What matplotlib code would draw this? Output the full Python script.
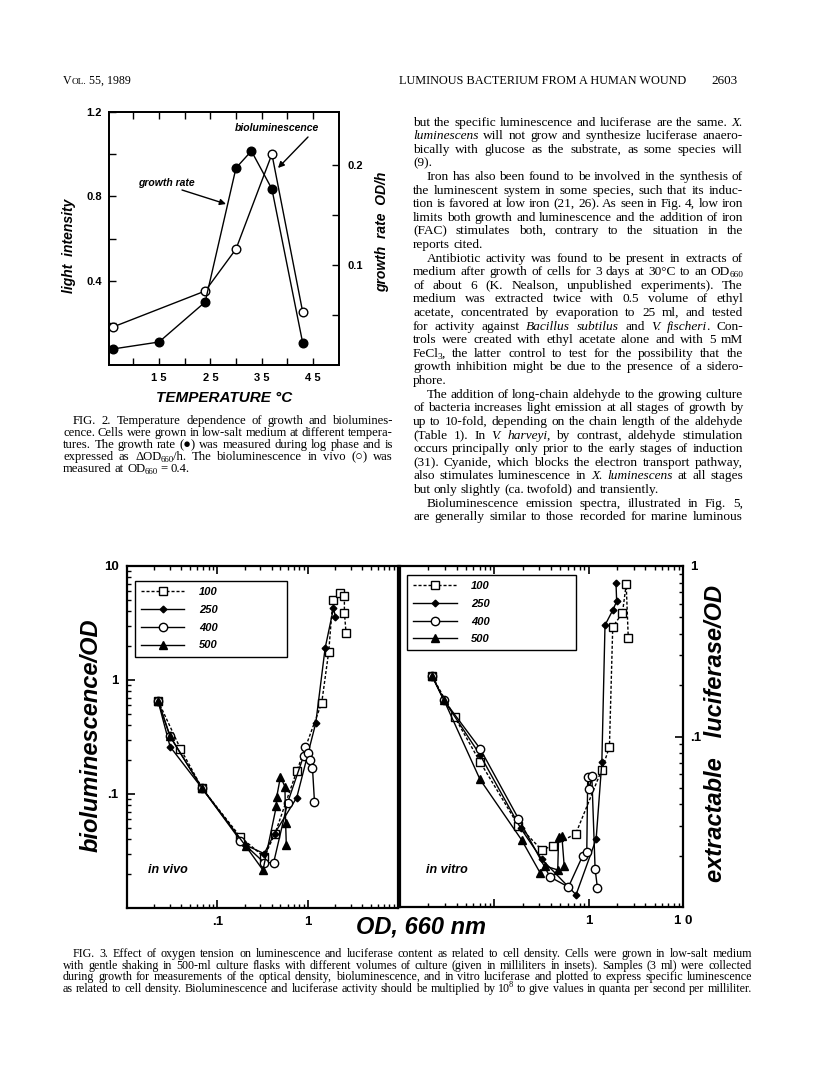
import math
import matplotlib
matplotlib.use("Agg")
import matplotlib.pyplot as plt
from matplotlib.ticker import LogLocator, NullFormatter
import numpy as np

# ---------------- data : FIG. 2 ----------------
TEMP_GROWTH = [6, 15, 24, 30, 33, 37, 43]
GROWTH_RATE = [0.016, 0.023, 0.063, 0.197, 0.214, 0.176, 0.022]
TEMP_LIGHT = [6, 24, 30, 37, 43]
LIGHT_INTENSITY = [0.180, 0.351, 0.550, 1.0, 0.251]
TEMP_TICKS = [15, 25, 35, 45]
TEMP_TICK_LABELS = ['1 5', '2 5', '3 5', '4 5']
TEMP_MINOR = [10, 20, 30, 40]
LIGHT_TICKS = [0.4, 0.8, 1.2]
LIGHT_TICK_LABELS = ['0.4', '0.8', '1.2']
LIGHT_MINOR = [0.2, 0.6, 1.0]
GROWTH_TICKS = [0.1, 0.2]
GROWTH_TICK_LABELS = ['0.1', '0.2']
GROWTH_MINOR = [0.05, 0.15]

# ---------------- data : FIG. 3 ----------------
VOLUMES = ['100', '250', '400', '500']
VIVO_OD = {
    '100': [0.022, 0.039, 0.068, 0.18, 0.33, 0.435, 0.76, 1.43, 1.71, 1.90, 2.29, 2.55, 2.55, 2.66],
    '250': [0.022, 0.030, 0.068, 0.20, 0.33, 0.43, 0.757, 1.23, 1.56, 1.93, 2.03],
    '400': [0.022, 0.030, 0.068, 0.18, 0.33, 0.42, 0.60, 0.90, 0.94, 1.02, 1.06, 1.13, 1.19],
    '500': [0.022, 0.030, 0.068, 0.206, 0.32, 0.45, 0.455, 0.50, 0.56, 0.57, 0.58],
}
VIVO_BL = {
    '100': [0.66, 0.25, 0.112, 0.042, 0.028, 0.045, 0.16, 0.63, 1.77, 5.0, 5.75, 5.5, 3.9, 2.6],
    '250': [0.66, 0.26, 0.112, 0.036, 0.030, 0.045, 0.093, 0.42, 1.9, 4.25, 3.6],
    '400': [0.66, 0.32, 0.112, 0.039, 0.025, 0.025, 0.084, 0.215, 0.26, 0.23, 0.20, 0.17, 0.085],
    '500': [0.66, 0.32, 0.112, 0.035, 0.0215, 0.078, 0.095, 0.142, 0.116, 0.056, 0.036],
}
VITRO_OD = {
    '100': [0.022, 0.038, 0.0705, 0.18, 0.318, 0.42, 0.73, 1.38, 1.66, 1.80, 2.28, 2.50, 2.63],
    '250': [0.022, 0.0293, 0.0705, 0.19, 0.32, 0.735, 1.2, 1.38, 1.49, 1.80, 1.98, 1.95],
    '400': [0.022, 0.0293, 0.0705, 0.18, 0.39, 0.61, 0.865, 0.955, 0.977, 1.016, 1.08, 1.17, 1.24],
    '500': [0.022, 0.0293, 0.0705, 0.195, 0.305, 0.345, 0.47, 0.48, 0.52, 0.55],
}
VITRO_LU = {
    '100': [0.225, 0.13, 0.071, 0.030, 0.0216, 0.0229, 0.0269, 0.064, 0.087, 0.44, 0.53, 0.78, 0.376],
    '250': [0.225, 0.163, 0.078, 0.029, 0.019, 0.0118, 0.025, 0.071, 0.45, 0.55, 0.62, 0.79],
    '400': [0.225, 0.163, 0.085, 0.033, 0.015, 0.0131, 0.020, 0.021, 0.058, 0.049, 0.059, 0.0167, 0.0129],
    '500': [0.225, 0.163, 0.056, 0.0247, 0.0159, 0.0174, 0.0165, 0.0256, 0.026, 0.0175],
}
OD_TICKS = [0.01, 0.1, 1, 10]
VIVO_OD_LABELS = ['', '.1', '1', '']
VITRO_OD_LABELS = ['', '', '1', '1 0']
VIVO_Y_TICKS = [0.01, 0.1, 1, 10]
VIVO_Y_LABELS = ['', '.1', '1', '10']
VITRO_Y_TICKS = [0.01, 0.1, 1]
VITRO_Y_LABELS = ['', '.1', '1']

# ---------------- page text ----------------
HEADER_LEFT = ['V', 'OL.', ' 55, 1989']
HEADER_RIGHT = 'LUMINOUS BACTERIUM FROM A HUMAN WOUND'
PAGE_NO = '2603'
BODY = [
    "but the specific luminescence and luciferase are the same. *X.*",
    "*luminescens* will not grow and synthesize luciferase anaero-",
    "bically with glucose as the substrate, as some species will",
    "(9).",
    "Iron has also been found to be involved in the synthesis of",
    "the luminescent system in some species, such that its induc-",
    "tion is favored at low iron (21, 26). As seen in Fig. 4, low iron",
    "limits both growth and luminescence and the addition of iron",
    "(FAC) stimulates both, contrary to the situation in the",
    "reports cited.",
    "Antibiotic activity was found to be present in extracts of",
    "medium after growth of cells for 3 days at 30°C to an OD_660_",
    "of about 6 (K. Nealson, unpublished experiments). The",
    "medium was extracted twice with 0.5 volume of ethyl",
    "acetate, concentrated by evaporation to 25 ml, and tested",
    "for activity against *Bacillus subtilus* and *V. fischeri*. Con-",
    "trols were created with ethyl acetate alone and with 5 mM",
    "FeCl_3_, the latter control to test for the possibility that the",
    "growth inhibition might be due to the presence of a sidero-",
    "phore.",
    "The addition of long-chain aldehyde to the growing culture",
    "of bacteria increases light emission at all stages of growth by",
    "up to 10-fold, depending on the chain length of the aldehyde",
    "(Table 1). In *V. harveyi*, by contrast, aldehyde stimulation",
    "occurs principally only prior to the early stages of induction",
    "(31). Cyanide, which blocks the electron transport pathway,",
    "also stimulates luminescence in *X. luminescens* at all stages",
    "but only slightly (ca. twofold) and transiently.",
    "Bioluminescence emission spectra, illustrated in Fig. 5,",
    "are generally similar to those recorded for marine luminous",
]
BODY_INDENT = (4, 10, 20, 28)
BODY_RAGGED = (3, 9, 19, 27)
CAP2 = [
    "FIG. 2. Temperature dependence of growth and biolumines-",
    "cence. Cells were grown in low-salt medium at different tempera-",
    "tures. The growth rate (●) was measured during log phase and is",
    "expressed as ΔOD_660_/h. The bioluminescence in vivo (○) was",
    "measured at OD_660_ = 0.4.",
]
CAP3 = [
    "FIG. 3.  Effect of oxygen tension on luminescence and luciferase content as related to cell density. Cells were grown in low-salt medium",
    "with gentle shaking in 500-ml culture flasks with different volumes of culture (given in milliliters in insets). Samples (3 ml) were collected",
    "during growth for measurements of the optical density, bioluminescence, and in vitro luciferase and plotted to express specific luminescence",
    "as related to cell density. Bioluminescence and luciferase activity should be multiplied by 10^8^ to give values in quanta per second per milliliter.",
]

# ---------------- setup ----------------
SANS = ['Liberation Sans', 'DejaVu Sans']
SERIF = ['Liberation Serif', 'DejaVu Serif']
plt.rcParams['font.family'] = SANS
plt.rcParams['font.weight'] = 'bold'
PT = 100 / 72.0
WPX, HPX = 816, 1074

fig = plt.figure(figsize=(8.16, 10.74), dpi=100)
fig.patch.set_facecolor('white')
R = fig.canvas.get_renderer()

try:
    from matplotlib.backends.backend_agg import get_hinting_flag
except Exception:
    get_hinting_flag = None


def F(px, py):
    return (px / WPX, 1 - py / HPX)


def base_for(t, n):
    """Baseline position (pixels from top) that makes Agg's pixel rounding put
    the glyph baseline of text *t* on row *n*, so words of a line align."""
    try:
        font = R._prepare_font(t.get_fontproperties())
        font.set_text(t.get_text(), 0.0, flags=get_hinting_flag())
        w, h = font.get_width_height()
        d = font.get_descent()
        m = (h // 64) - math.floor((h - d) / 64.0)
        return n + m - d / 64.0
    except Exception:
        return float(n)


def add_ax(x0, y0, x1, y1):
    return fig.add_axes([x0 / WPX, 1 - y1 / HPX, (x1 - x0) / WPX, (y1 - y0) / HPX])


MARK = {'*': 'i', '_': 'sub', '^': 'sup'}


def parse_line(line):
    words, cur, style, buf = [], [], 'n', ''
    for ch in line:
        if ch == ' ':
            if buf:
                cur.append((buf, style)); buf = ''
            if cur:
                words.append(cur); cur = []
        elif ch in MARK:
            if buf:
                cur.append((buf, style)); buf = ''
            tgt = MARK[ch]
            style = 'n' if style == tgt else tgt
        else:
            buf += ch
    if buf:
        cur.append((buf, style))
    if cur:
        words.append(cur)
    return words


def seg_style(style, size):
    if style == 'i':
        return dict(fontsize=size, fontstyle='italic', fontweight='normal'), 0
    if style == 'sub':
        return dict(fontsize=size * 0.7, fontweight='normal'), -round(0.17 * size * PT)
    if style == 'sup':
        return dict(fontsize=size * 0.7, fontweight='normal'), round(0.40 * size * PT)
    return dict(fontsize=size, fontweight='normal'), 0


def make_line(words, size, family):
    objs = []
    for word in words:
        wl = []
        prev = None
        for s, st in word:
            props, dy = seg_style(st, size)
            t = fig.text(0, 0, s, family=family, va='baseline', ha='left', **props)
            w = t.get_window_extent(R).width
            kern = -1.0 if (prev is not None and prev != st) else 0.0
            wl.append((t, dy, w, kern))
            prev = st
        objs.append(wl)
    return objs


def word_w(wl):
    return sum(w + k for _, _, w, k in wl)


def line_widths(words, size, family):
    objs = make_line(words, size, family)
    ws = [word_w(wl) for wl in objs]
    for wl in objs:
        for t, _, _, _ in wl:
            t.remove()
    return ws


def block(lines, x0, x1, base0, dy, size, family, indent=0.0,
          indent_lines=(), ragged=(), target=0.965):
    parsed = [parse_line(l) for l in lines]
    sp = 0.25 * size * PT
    ratios = []
    for i, words in enumerate(parsed):
        if i in ragged or len(words) < 2:
            continue
        ws = line_widths(words, size, family)
        avail = x1 - x0 - (indent if i in indent_lines else 0)
        ratios.append((sum(ws) + sp * (len(ws) - 1)) / avail)
    size = size * target / float(np.median(ratios))
    sp = 0.25 * size * PT
    for i, words in enumerate(parsed):
        objs = make_line(words, size, family)
        widths = [word_w(wl) for wl in objs]
        left = x0 + (indent if i in indent_lines else 0)
        if i in ragged or len(words) < 2:
            gap = sp
        else:
            gap = max((x1 - left - sum(widths)) / (len(words) - 1), 0.8)
        x = left
        n = int(round(base0 + i * dy))
        for wl, ww in zip(objs, widths):
            xx = x
            for t, d, w, k in wl:
                xx += k
                b = base_for(t, n - d)
                t.set_position((xx / WPX, 1 - b / HPX))
                xx += w
            x += ww + gap


def text_w(text, family, **kw):
    t = fig.text(0, 0, text, family=family, **kw)
    w = t.get_window_extent(R).width
    t.remove()
    return w


def fit_text(text, x0, x1, base, family, **kw):
    w = text_w(text, family, fontsize=10.0, **kw)
    size = 10.0 * (x1 - x0) / w
    t = fig.text(x0 / WPX, 0, text, family=family, fontsize=size,
                 va='baseline', ha='left', **kw)
    t.set_y(1 - base_for(t, int(round(base))) / HPX)


def header_left(x0, x1, base):
    size = 10.0
    ks = [1.0, 0.78, 1.0]
    tot = sum(text_w(s, SERIF, fontsize=size * k, fontweight='normal') for s, k in zip(HEADER_LEFT, ks))
    size = size * (x1 - x0) / tot
    x = x0
    for s, k in zip(HEADER_LEFT, ks):
        t = fig.text(x / WPX, 0, s, family=SERIF, fontsize=size * k,
                     fontweight='normal', va='baseline', ha='left')
        t.set_y(1 - base_for(t, int(round(base))) / HPX)
        x += t.get_window_extent(R).width


# ---------------- header ----------------
header_left(63, 131, 84.5)
fit_text(HEADER_RIGHT, 399, 687, 84.5, SERIF, fontweight='normal')
fit_text(PAGE_NO, 711, 737, 84.5, SERIF, fontweight='normal')

# ---------------- body text ----------------
block(BODY, 413, 743, 125.5, 13.61, 9.0, SERIF, indent=13.5,
      indent_lines=BODY_INDENT, ragged=BODY_RAGGED)
block(CAP2, 63, 393, 424.5, 11.8, 8.0, SERIF, indent=10,
      indent_lines=(0,), ragged=(4,))
block(CAP3, 63, 752, 957.0, 11.7, 8.0, SERIF, indent=10,
      indent_lines=(0,), target=0.975)

# ---------------- FIG. 2 ----------------
ax2 = add_ax(109, 112, 339, 365)
ax2b = ax2.twinx()
ax2.plot(TEMP_LIGHT, LIGHT_INTENSITY, color='black', lw=1.0, marker='o', ms=6.2,
         mfc='white', mec='black', mew=1.0, zorder=3)
ax2b.plot(TEMP_GROWTH, GROWTH_RATE, color='black', lw=1.0, marker='o', ms=6.2,
          mfc='black', mec='black', zorder=3)
ax2.set_xlim(5.26, 50.07)
ax2.set_ylim(0, 1.2)
ax2b.set_ylim(0, 0.253)
ax2.set_xticks(TEMP_TICKS, labels=TEMP_TICK_LABELS)
ax2.set_xticks(TEMP_MINOR, minor=True)
ax2.set_yticks(LIGHT_TICKS, labels=LIGHT_TICK_LABELS)
ax2.set_yticks(LIGHT_MINOR, minor=True)
ax2b.set_yticks(GROWTH_TICKS, labels=GROWTH_TICK_LABELS)
ax2b.set_yticks(GROWTH_MINOR, minor=True)
for a in (ax2, ax2b):
    for s in a.spines.values():
        s.set_linewidth(1.3)
ax2.tick_params(axis='x', which='both', direction='in', top=True, length=5, width=1.0,
                labelsize=8, pad=6)
ax2.tick_params(axis='y', which='both', direction='in', left=True, right=False,
                length=5, width=1.0, labelsize=8, pad=5)
ax2b.tick_params(axis='y', which='both', direction='in', right=True, length=5,
                 width=1.0, labelsize=8, pad=6)

fig.text(*F(224, 398), 'TEMPERATURE °C', fontsize=11, fontstyle='italic',
         fontweight='bold', ha='center', va='center')
fig.text(*F(69, 246), 'light  intensity', fontsize=10, fontstyle='italic',
         fontweight='bold', ha='center', va='center', rotation=90)
fig.text(*F(382, 232), 'growth  rate  OD/h', fontsize=10, fontstyle='italic',
         fontweight='bold', ha='center', va='center', rotation=90)
fig.text(*F(166, 183), 'growth rate', fontsize=7.5, fontstyle='italic',
         fontweight='bold', ha='center', va='center')
fig.text(*F(277, 128), 'bioluminescence', fontsize=7.5, fontstyle='italic',
         fontweight='bold', ha='center', va='center')
arrow = dict(arrowstyle='-|>', color='black', lw=1.0, mutation_scale=9,
             shrinkA=0, shrinkB=0)
ax2.annotate('', xy=F(226, 204), xycoords='figure fraction',
             xytext=F(182, 190), textcoords='figure fraction', arrowprops=arrow)
ax2.annotate('', xy=F(278, 168), xycoords='figure fraction',
             xytext=F(308, 137), textcoords='figure fraction', arrowprops=arrow)

# ---------------- FIG. 3 ----------------
STYLES = {
    '100': dict(ls=(0, (2.2, 1.4)), marker='s', mfc='white', ms=5.5),
    '250': dict(ls='-', marker='D', mfc='black', ms=3.4),
    '400': dict(ls='-', marker='o', mfc='white', ms=6.0),
    '500': dict(ls='-', marker='^', mfc='black', ms=6.0),
}
axL = add_ax(127, 566, 398, 908)
axR = add_ax(400, 566, 683, 907)


def draw_panel(ax, ods, vals):
    handles = []
    for v in VOLUMES:
        st = STYLES[v]
        h, = ax.plot(ods[v], vals[v], color='black', lw=1.0, mec='black', mew=1.0,
                     ls=st['ls'], marker=st['marker'], mfc=st['mfc'], ms=st['ms'])
        handles.append(h)
    return handles


hL = draw_panel(axL, VIVO_OD, VIVO_BL)
hR = draw_panel(axR, VITRO_OD, VITRO_LU)

for ax, yt, yl, xl, ylim in ((axL, VIVO_Y_TICKS, VIVO_Y_LABELS, VIVO_OD_LABELS, (0.01, 10)),
                             (axR, VITRO_Y_TICKS, VITRO_Y_LABELS, VITRO_OD_LABELS, (0.01, 1))):
    ax.set_xscale('log')
    ax.set_yscale('log')
    ax.set_xlim(0.01, 10)
    ax.set_ylim(*ylim)
    ax.set_xticks(OD_TICKS, labels=xl)
    ax.set_yticks(yt, labels=yl)
    ax.xaxis.set_minor_locator(LogLocator(base=10, subs=np.arange(2, 10) * 1.0, numticks=30))
    ax.yaxis.set_minor_locator(LogLocator(base=10, subs=np.arange(2, 10) * 1.0, numticks=30))
    ax.xaxis.set_minor_formatter(NullFormatter())
    ax.yaxis.set_minor_formatter(NullFormatter())
    for s in ax.spines.values():
        s.set_linewidth(1.6)
    ax.tick_params(which='major', length=6, width=1.2)
    ax.tick_params(which='minor', length=3, width=1.0)
    ax.tick_params(axis='x', which='both', direction='in', top=True, bottom=True,
                   labelsize=9.5, pad=6)

axL.tick_params(axis='y', which='both', direction='in', left=True, right=False,
                labelsize=9.5, pad=6)
axR.tick_params(axis='y', which='both', direction='in', left=False, right=True,
                labelleft=False, labelright=True, labelsize=9.5, pad=5)

legprops = dict(family=SANS, weight='bold', style='italic', size=8)
for ax, hs, (bx, by), bw in ((axL, hL, (0.0295, 0.956), 0.56), (axR, hR, (0.025, 0.974), 0.597)):
    leg = ax.legend(hs, VOLUMES, loc='upper left', bbox_to_anchor=(bx, by - 0.5, bw, 0.5),
                    mode='expand', borderaxespad=0, frameon=True, fancybox=False,
                    edgecolor='black', framealpha=1, handlelength=3.9,
                    handletextpad=1.3, borderpad=0.55, labelspacing=0.7, prop=legprops)
    leg.get_frame().set_linewidth(1.0)

fig.text(*F(168, 870), 'in vivo', fontsize=9, fontstyle='italic', fontweight='bold',
         ha='center', va='center')
fig.text(*F(447, 870), 'in vitro', fontsize=9, fontstyle='italic', fontweight='bold',
         ha='center', va='center')
fig.text(*F(421, 927), 'OD, 660 nm', fontsize=17, fontstyle='italic', fontweight='bold',
         ha='center', va='center')
fig.text(*F(91, 735), 'bioluminescence/OD', fontsize=17, fontstyle='italic',
         fontweight='bold', ha='center', va='center', rotation=90)
fig.text(*F(715, 734), 'extractable   luciferase/OD', fontsize=17, fontstyle='italic',
         fontweight='bold', ha='center', va='center', rotation=90)

fig.savefig('out.png', dpi=100, facecolor='white')
